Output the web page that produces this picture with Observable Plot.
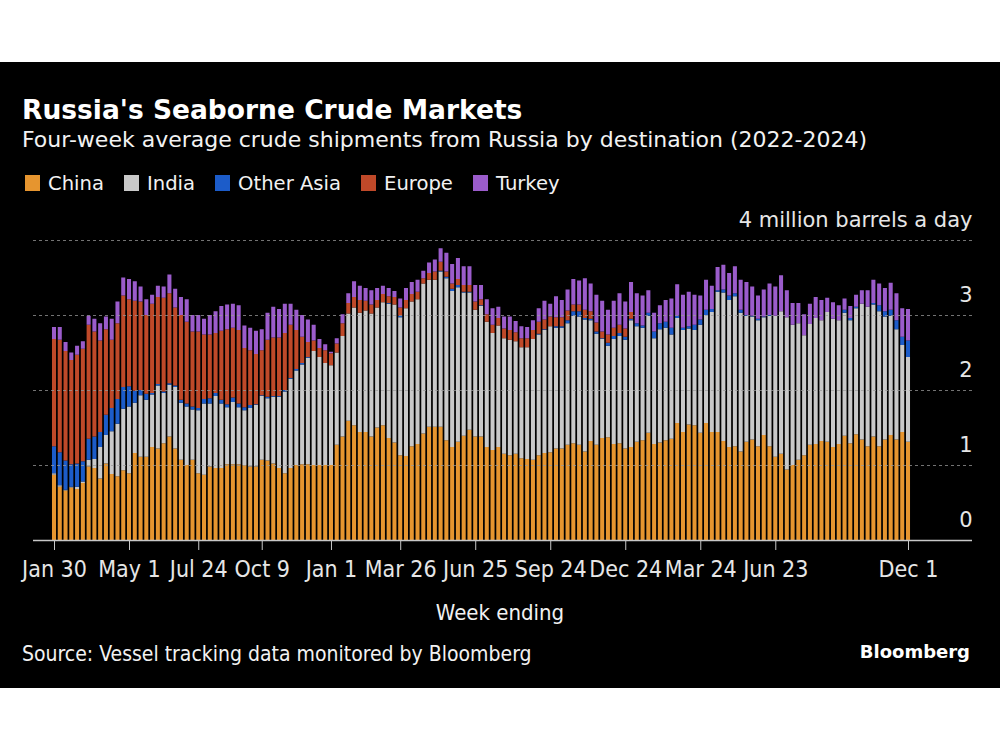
<!DOCTYPE html>
<html>
<head>
<meta charset="utf-8">
<script src="https://cdn.jsdelivr.net/npm/d3@7"></script>
<script src="https://cdn.jsdelivr.net/npm/@observablehq/plot@0.6"></script>
<style>
  body { margin:0; background:#fff; width:1000px; height:750px; position:relative; overflow:hidden;
         font-family:"DejaVu Sans Condensed","DejaVu Sans",sans-serif; }
  #panel { position:absolute; left:0; top:62px; width:1000px; height:626px; background:#000; }
  .t { position:absolute; color:#f2f2f2; white-space:nowrap; line-height:1; }
  #title { left:22px; top:97px; font-size:26.5px; font-weight:700; font-family:"DejaVu Sans",sans-serif; color:#fff; }
  #subtitle { left:22px; top:129px; font-size:22px; font-family:"DejaVu Sans",sans-serif; }
  #legend { left:25px; top:174px; font-size:19.6px; font-family:"DejaVu Sans",sans-serif; display:flex; align-items:flex-start; }
  #legend .item { display:flex; align-items:flex-start; margin-right:20px; }
  #legend .sw { width:15px; height:16px; margin-right:8px; margin-top:1px; }
  #xlabel { left:0; width:1000px; text-align:center; top:602px; font-size:22px; }
  #source { left:22px; top:644px; font-size:21px; }
  #brand { right:30px; top:643px; font-size:18px; font-weight:700; font-family:"DejaVu Sans",sans-serif; color:#fff; }
  #chart { position:absolute; left:0; top:200px; }
</style>
</head>
<body>
<div id="panel"></div>
<div class="t" id="title">Russia's Seaborne Crude Markets</div>
<div class="t" id="subtitle">Four-week average crude shipments from Russia by destination (2022-2024)</div>
<div class="t" id="legend"></div>
<div id="chart"></div>
<div class="t" id="xlabel">Week ending</div>
<div class="t" id="source">Source: Vessel tracking data monitored by Bloomberg</div>
<div class="t" id="brand">Bloomberg</div>
<script>
// ---- Categories ----
const seriesNames = ["China", "India", "Other Asia", "Europe", "Turkey"];
const seriesColors = ["#E6952F", "#C9C9C9", "#1C5CC9", "#BF4929", "#9B5CCB"];
const fmt = d3.utcFormat("%Y-%m-%d");
const weeks = d3.utcSunday.range(new Date(Date.UTC(2022, 0, 30)), new Date(Date.UTC(2024, 11, 2))).map(fmt);

// ---- Tick labels ----
const tickWeeks = ["2022-01-30","2022-05-01","2022-07-24","2022-10-09","2023-01-01","2023-03-26",
                   "2023-06-25","2023-09-24","2023-12-24","2024-03-24","2024-06-23","2024-12-01"];
const tickLabels = ["Jan 30","May 1","Jul 24","Oct 9","Jan 1","Mar 26",
                    "Jun 25","Sep 24","Dec 24","Mar 24","Jun 23","Dec 1"];
const yTicks = [0, 1, 2, 3, 4];
const yTickLabels = ["0", "1", "2", "3", "4 million barrels a day"];

// ---- Series values (million barrels a day) ----
const china = [
0.87,0.71,0.66,0.70,0.68,0.76,0.98,0.96,0.82,1.02,
0.88,0.85,0.93,0.89,1.16,1.11,1.11,1.24,1.22,1.29,
1.38,1.22,1.07,1.00,1.07,0.89,0.87,0.98,0.96,0.96,
1.01,1.01,1.01,1.00,0.98,0.98,1.07,1.06,1.02,0.96,
0.89,0.96,1.00,1.01,1.01,1.00,1.00,1.00,1.00,1.27,
1.38,1.59,1.53,1.44,1.44,1.38,1.50,1.53,1.36,1.30,
1.13,1.12,1.25,1.28,1.42,1.51,1.51,1.51,1.33,1.24,
1.31,1.39,1.47,1.38,1.38,1.24,1.20,1.24,1.15,1.13,
1.15,1.09,1.08,1.07,1.13,1.16,1.17,1.22,1.22,1.27,
1.29,1.27,1.18,1.32,1.27,1.36,1.37,1.28,1.29,1.22,
1.24,1.31,1.33,1.43,1.28,1.30,1.33,1.35,1.56,1.44,
1.54,1.53,1.43,1.56,1.44,1.44,1.32,1.24,1.25,1.18,
1.31,1.34,1.25,1.40,1.25,1.11,1.15,0.94,1.00,1.07,
1.13,1.27,1.28,1.32,1.31,1.24,1.28,1.39,1.29,1.41,
1.34,1.25,1.38,1.25,1.34,1.40,1.34,1.44,1.31];
const india = [
0.02,0.02,0.01,0.01,0.03,0.02,0.09,0.12,0.42,0.38,
0.57,0.70,0.82,0.89,0.67,0.82,0.76,0.70,0.84,0.67,
0.69,0.82,0.76,0.78,0.67,0.84,0.95,0.84,0.96,0.86,
0.76,0.83,0.76,0.73,0.78,0.82,0.85,0.83,0.89,0.95,
1.09,1.19,1.26,1.33,1.42,1.52,1.44,1.36,1.33,1.23,
1.34,1.43,1.57,1.59,1.62,1.64,1.60,1.64,1.79,1.84,
1.84,1.97,1.93,1.93,2.00,1.96,1.96,2.07,2.16,2.08,
2.06,1.91,1.83,1.69,1.74,1.67,1.56,1.62,1.54,1.54,
1.50,1.48,1.49,1.61,1.61,1.64,1.68,1.61,1.61,1.62,
1.70,1.71,1.76,1.61,1.48,1.32,1.22,1.40,1.43,1.45,
1.69,1.54,1.50,1.56,1.41,1.51,1.50,1.39,1.40,1.36,
1.28,1.27,1.44,1.44,1.60,1.87,1.98,1.96,2.00,1.85,
1.68,1.64,1.68,1.57,1.74,1.88,1.90,2.03,1.87,1.82,
1.60,1.61,1.68,1.61,1.73,1.71,1.65,1.64,1.64,1.68,
1.81,1.86,1.76,1.80,1.64,1.59,1.47,1.16,1.13];
const otherAsia = [
0.36,0.44,0.39,0.30,0.31,0.27,0.28,0.30,0.20,0.27,
0.31,0.33,0.29,0.27,0.16,0.07,0.08,0.02,0.02,0.02,
0.02,0.02,0.04,0.04,0.04,0.03,0.06,0.07,0.04,0.05,
0.04,0.06,0.05,0.04,0.04,0.01,0.01,0.02,0.01,0.01,
0.02,0.01,0.02,0.02,0.01,0,0,0,0,0,
0,0,0,0,0,0,0,0,0.01,0,
0.02,0,0,0,0,0,0,0.01,0.02,0.03,
0.03,0.01,0.01,0,0.01,0,0,0,0,0,
0,0,0,0,0.01,0.01,0,0.02,0.02,0.04,
0.06,0.07,0.02,0.02,0.03,0.01,0.04,0.04,0.04,0.04,
0.02,0.04,0.03,0.04,0.09,0.08,0.08,0.09,0.03,0.03,
0.03,0.07,0.07,0.07,0.04,0.02,0.04,0.06,0.04,0.04,
0.01,0.01,0.02,0.01,0.01,0,0,0,0,0,
0,0,0,0,0,0,0,0.04,0.03,0.02,
0,0,0.02,0.08,0.07,0.08,0.12,0.11,0.22];
const europe = [
1.43,1.50,1.46,1.39,1.45,1.50,1.52,1.40,1.22,1.14,
0.91,1.01,1.22,1.16,1.20,1.18,1.05,1.19,1.16,1.25,
1.20,1.04,1.13,1.09,1.00,1.02,0.86,0.85,0.80,0.92,
1.00,0.93,0.98,0.79,0.73,0.67,0.60,0.76,0.78,0.78,
0.76,0.71,0.52,0.35,0.20,0.14,0.12,0.17,0.16,0.12,
0.17,0.14,0.14,0.17,0.13,0.12,0.10,0.11,0.09,0.10,
0.11,0.11,0.10,0.10,0.07,0.09,0.11,0.12,0.07,0.07,
0.08,0.09,0.09,0.11,0.08,0.10,0.11,0.10,0.13,0.13,
0.12,0.12,0.12,0.12,0.16,0.13,0.13,0.12,0.12,0.13,
0.09,0.09,0.11,0.10,0.12,0.09,0.11,0.11,0.11,0.11,
0.09,0,0,0,0,0,0,0,0,0,
0,0,0,0,0,0,0,0,0,0,
0,0,0,0,0,0,0,0,0,0,
0,0,0,0,0,0,0,0,0,0,
0,0,0,0,0,0,0,0,0];
const turkey = [
0.16,0.17,0.12,0.10,0.12,0.10,0.12,0.17,0.23,0.17,
0.28,0.29,0.24,0.27,0.26,0.20,0.21,0.12,0.15,0.15,
0.25,0.25,0.24,0.30,0.22,0.22,0.21,0.26,0.29,0.33,
0.33,0.32,0.33,0.30,0.30,0.31,0.28,0.36,0.41,0.38,
0.39,0.28,0.27,0.29,0.30,0.21,0.12,0.08,0.02,0.07,
0.12,0.13,0.21,0.19,0.17,0.19,0.16,0.11,0.11,0.08,
0.12,0.16,0.16,0.16,0.10,0.14,0.16,0.18,0.25,0.26,
0.28,0.25,0.25,0.22,0.19,0.20,0.22,0.15,0.16,0.18,
0.15,0.16,0.15,0.13,0.18,0.25,0.17,0.28,0.23,0.28,
0.34,0.32,0.42,0.37,0.37,0.41,0.33,0.36,0.42,0.36,
0.40,0.40,0.40,0.30,0.25,0.24,0.29,0.39,0.42,0.44,
0.46,0.40,0.32,0.40,0.31,0.31,0.33,0.30,0.36,0.40,
0.44,0.39,0.31,0.36,0.42,0.39,0.48,0.36,0.29,0.27,
0.28,0.27,0.28,0.27,0.19,0.22,0.20,0.15,0.16,0.16,
0.18,0.22,0.31,0.29,0.31,0.36,0.36,0.38,0.42];

// ---- Build tidy table ----
const seriesValues = [china, india, otherAsia, europe, turkey];
const rows = [];
weeks.forEach((w, i) => {
  seriesNames.forEach((s, k) => rows.push({week: w, series: s, value: seriesValues[k][i]}));
});
const tickLabelOf = new Map(tickWeeks.map((d, i) => [d, tickLabels[i]]));

// ---- Legend ----
const legend = document.getElementById("legend");
seriesNames.forEach((s, k) => {
  const it = document.createElement("div");
  it.className = "item";
  it.innerHTML = `<div class="sw" style="background:${seriesColors[k]}"></div><span>${s}</span>`;
  legend.appendChild(it);
});

// ---- Chart ----
const step = 854 / 148;
const chart = Plot.plot({
  width: 1000,
  height: 430,
  marginLeft: 33,
  marginRight: 28,
  marginTop: 40,
  marginBottom: 90,
  style: {background: "transparent", color: "#dcdcdc", fontFamily: "'DejaVu Sans Condensed','DejaVu Sans',sans-serif"},
  x: {type: "band", domain: weeks, range: [54 - step / 2, 908 + step / 2], paddingInner: 0.3, paddingOuter: 0.15, align: 0.5},
  y: {domain: [0, 4], axis: null},
  color: {domain: seriesNames, range: seriesColors},
  marks: [
    Plot.barY(rows, {x: "week", y: "value", fill: "series", inset: 0}),
    Plot.ruleY([1, 2, 3, 4], {stroke: "#9a9a9a", strokeOpacity: 0.75, strokeDasharray: "3,3", strokeWidth: 1}),
    Plot.ruleY([0], {stroke: "#c8c8c8", strokeWidth: 1.5}),
    Plot.text(yTicks, {y: d => d, text: (d, i) => yTickLabels[i], frameAnchor: "right", textAnchor: "end",
                       lineAnchor: "bottom", dy: -14, fill: "#e6e6e6", fontSize: 21,
                       fontFamily: "'DejaVu Sans',sans-serif"}),
    Plot.axisX({ticks: tickWeeks, tickFormat: d => tickLabelOf.get(d), tickSize: 10, tickPadding: 10,
                fontSize: 23, label: null, stroke: "#c8c8c8", fill: "#e6e6e6"})
  ]
});
document.getElementById("chart").appendChild(chart);
</script>
</body>
</html>
